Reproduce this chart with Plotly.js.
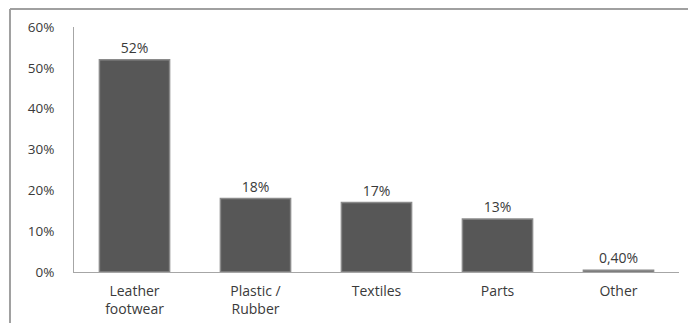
<!DOCTYPE html>
<html>
<head>
<meta charset="utf-8">
<script src="https://cdn.plot.ly/plotly-3.0.1.min.js"></script>
<style>html,body{margin:0;padding:0;background:#fff;}#chart{width:688px;height:323px;}</style>
</head>
<body>
<div id="chart"></div>
<script>
const categories = ["Leather<br>footwear", "Plastic /<br>Rubber", "Textiles", "Parts", "Other"];
const shares = [0.52, 0.18, 0.17, 0.13, 0.004];
const valueLabels = ["52%", "18%", "17%", "13%", "0,40%"];
const yTicks = [0, 0.1, 0.2, 0.3, 0.4, 0.5, 0.6];

const fontFamily = "'Open Sans', Lato, sans-serif";
const trace = {
  type: "bar",
  x: categories,
  y: shares,
  text: valueLabels,
  textposition: "outside",
  cliponaxis: false,
  textfont: {family: fontFamily, size: 14, color: "#3a3a3a"},
  marker: {color: "#575757", line: {color: "#8a8a8a", width: 1.5}},
  width: 0.58,
  hoverinfo: "none"
};
const layout = {
  width: 688, height: 323,
  margin: {l: 74, r: 9, t: 27, b: 51},
  paper_bgcolor: "#fff", plot_bgcolor: "#fff",
  showlegend: false,
  font: {family: fontFamily, size: 14, color: "#3a3a3a"},
  xaxis: {
    showline: true, linecolor: "#a6a6a6", linewidth: 1,
    ticks: "", showgrid: false, zeroline: false,
    ticklabelstandoff: 6,
    tickfont: {family: fontFamily, size: 14, color: "#3a3a3a"}
  },
  yaxis: {
    range: [0, 0.6], tickvals: yTicks, tickformat: ".0%",
    showline: true, linecolor: "#a6a6a6", linewidth: 1,
    ticks: "", showgrid: false, zeroline: false,
    ticklabelstandoff: 16,
    tickfont: {family: fontFamily, size: 13.5, color: "#3a3a3a"}
  },
  shapes: [
    {type: "line", xref: "paper", yref: "paper", x0: -0.1058, x1: 1.02, y0: 1.0735, y1: 1.0735, line: {color: "#a0a0a0", width: 2}},
    {type: "line", xref: "paper", yref: "paper", x0: -0.1058, x1: -0.1058, y0: 1.0735, y1: -0.21, line: {color: "#a0a0a0", width: 2}}
  ]
};
Plotly.newPlot("chart", [trace], layout, {staticPlot: true, displayModeBar: false});
</script>
</body>
</html>
